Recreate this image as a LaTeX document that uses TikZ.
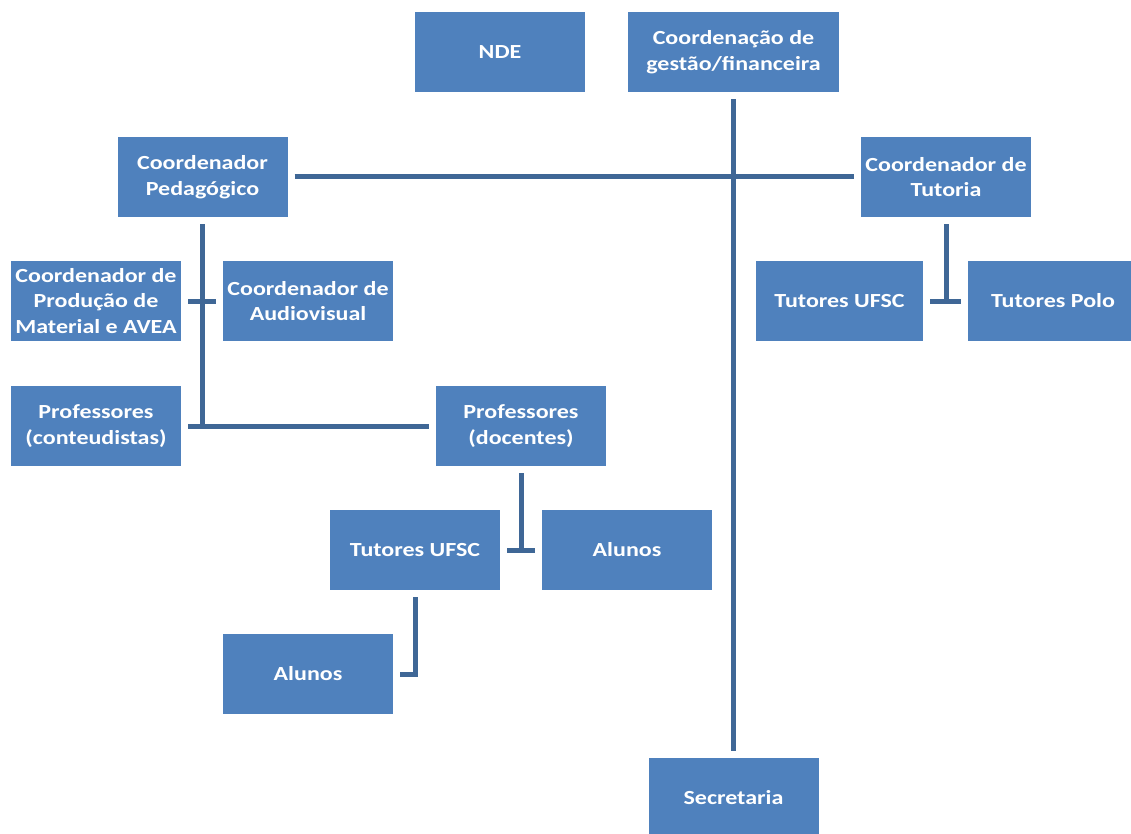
\documentclass[tikz,border=0pt]{standalone}
\usepackage{fontspec}
\setmainfont{Carlito}[FakeStretch=1.2]
\definecolor{boxblue}{HTML}{4F81BD}
\definecolor{linkblue}{HTML}{3F6796}

\begin{document}
\begin{tikzpicture}[x=1pt,y=-1pt,
  cargo/.style={fill=boxblue,text=white,font=\bfseries\fontsize{20}{25.5}\selectfont,
    align=center,minimum width=170pt,minimum height=80pt,inner sep=0pt},
  liga/.style={draw=linkblue,line width=5pt,shorten <=7pt,shorten >=7pt}]
\useasboundingbox (0,0) rectangle (1131,834);
\clip (0,0) rectangle (1131,834);

\node[cargo] (nde) at (500,52) {NDE};
\node[cargo,minimum width=211pt] (gestao) at (733.5,52) {Coordenação de\\gestão/financeira};
\node[cargo] (pedag) at (202.5,177) {Coordenador\\Pedagógico};
\node[cargo] (tutoria) at (946,177) {Coordenador de\\Tutoria};
\node[cargo] (producao) at (96,301) {Coordenador de\\Produção de\\Material e AVEA};
\node[cargo] (audio) at (308,301) {Coordenador de\\Audiovisual};
\node[cargo,minimum width=167pt] (tutufscB) at (839.5,301) {Tutores UFSC};
\node[cargo] (polo) at (1053,301) {Tutores Polo};
\node[cargo] (conteud) at (96,426) {Professores\\(conteudistas)};
\node[cargo] (docentes) at (521,426) {Professores\\(docentes)};
\node[cargo] (tutufscA) at (415,550) {Tutores UFSC};
\node[cargo] (alunosA) at (627,550) {Alunos};
\node[cargo] (alunosB) at (308,674) {Alunos};
\node[cargo] (secret) at (733.5,798) {Secretaria};

\draw[liga] (gestao) -- (secret);
\draw[liga] (pedag) -- (tutoria);
\draw[liga] (producao) -- (audio);
\draw[liga,shorten >=0pt] (pedag.south) -- (pedag.south |- conteud.east);
\draw[liga] (conteud) -- (docentes);
\draw[liga,shorten >=0pt] (docentes.south) -- (docentes.south |- tutufscA.east);
\draw[liga] (tutufscA) -- (alunosA);
\draw[liga,shorten >=0pt] (tutoria.south) -- (tutoria.south |- polo.west);
\draw[liga] (tutufscB) -- (polo);
\draw[liga] (tutufscA.south) |- (alunosB.east);

\end{tikzpicture}
\end{document}
